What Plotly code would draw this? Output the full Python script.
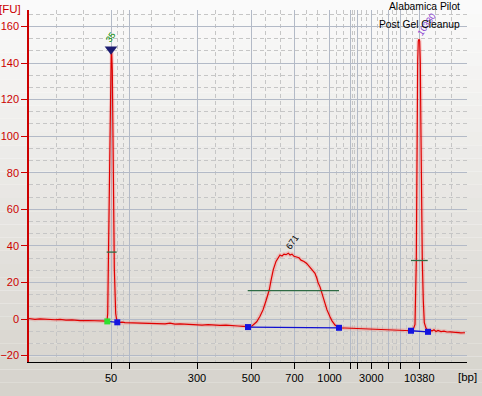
import plotly.graph_objects as go

# ---------------- data (x = migration position, y = fluorescence [FU]) ----------------
tick_pos = [111, 129, 197, 251, 294.5, 329.5, 350, 357, 371.3, 388.5, 400.3, 419.3]
tick_text = ["50", "", "300", "500", "700", "1000", "", "", "3000", "", "", "10380"]

trace_x = [29, 35, 40, 48, 55, 60, 66, 72, 80, 88, 95, 100, 104, 106, 107,
           107.7, 108.3, 109.3, 110.2, 110.7, 111.2, 111.7, 112.3, 112.8, 113.3, 114.3, 115.7,
           117, 119, 122, 125, 130, 135, 140, 147, 152, 158, 165, 170, 175, 180, 186, 192,
           197, 202, 208, 214, 220, 226, 232, 238, 243, 248, 252,
           256.7, 260, 263, 266, 269.3, 271, 273.3, 276, 278.3, 280, 282, 284, 286, 288.3,
           290, 292, 294, 296.7, 299, 301, 304, 306.7, 309, 311, 313, 315, 317, 318, 320,
           322, 323.5, 325, 327, 330, 332, 335, 337, 339, 345, 350, 356, 362, 368, 374,
           380, 386, 392, 398, 404, 408, 411, 413, 415, 416.3, 417, 417.7, 418.3, 419,
           419.7, 420.3, 421, 421.6, 422.3, 423.3, 424.3, 426, 428, 430, 432, 434, 436,
           438, 441, 444, 447, 450, 454, 458, 461, 465]
trace_y = [0.3, -0.2, 0.1, -0.3, -0.4, -0.2, -0.6, -0.5, -0.9, -0.8, -1.0, -1.1, -1.2, -1.3, -1.2,
           3, 28, 74, 120, 136, 146, 146, 136, 110, 74, 28, 3,
           -1.6, -1.9, -1.7, -2.0, -2.1, -1.8, -2.2, -2.1, -2.4, -2.3, -2.6, -2.3, -2.8, -2.7, -2.9, -3.0,
           -2.9, -3.3, -3.1, -3.4, -3.5, -3.3, -3.7, -3.8, -4.0, -4.2, -3.8,
           -1.5, 1.5, 5, 10, 16, 21, 27, 31.5, 34, 35, 34.5, 35.5, 35.2, 36,
           35, 35.5, 34.3, 34, 33.5, 32.2, 31.5, 30.4, 29, 28, 26.5, 25, 22, 20, 17.6,
           14, 11, 8.6, 5, 1.3, -1, -3.3, -4.3, -4.8, -4.9, -5.0, -5.3, -5.2, -5.6, -5.5,
           -5.9, -6.0, -6.0, -6.1, -6.3, -6.3, -6.4, -6.0, -3, 32, 100, 141, 152, 153,
           152, 141, 100, 60, 32, 10, -2, -5, -6.5, -5.8, -6.6, -5.9, -6.8,
           -6.2, -6.9, -6.6, -7.1, -7.0, -7.3, -7.2, -7.6, -7.5]

# peak start/end markers and baselines
start_x = [107.3, 248, 411]
start_y = [-1.3, -4.4, -6.4]
end_x = [117.3, 339, 428]
end_y = [-1.8, -4.8, -7.0]
# width lines (dark green)
wline_x0 = [106.7, 247.7, 411]
wline_x1 = [116.7, 339, 427.7]
wline_y = [36.6, 15.5, 32]
# peak labels
peak_lbl = ["35", "671", "10380"]
peak_lbl_x = [111, 292.5, 426]
peak_lbl_y = [154, 42, 161]
peak_lbl_col = ["#008a00", "#000000", "#8a3fd0"]
lm_x, lm_y = 111, 147.5

X0, X1 = 29, 467
Y0, Y1 = -23.5, 169

fig = go.Figure()

# background gradient (style)
n = 30
top = (250, 250, 250)
bot = (214, 211, 204)
for i in range(n):
    f = i / (n - 1)
    c = tuple(int(round(top[k] + (bot[k] - top[k]) * f)) for k in range(3))
    py0 = 396 * i / n
    py1 = 396 * (i + 1) / n
    fig.add_shape(type="rect", xref="paper", yref="paper", layer="below",
                  x0=-29 / 438, x1=453 / 438,
                  y0=(362 - py1) / 352, y1=(362 - py0) / 352,
                  fillcolor="rgb(%d,%d,%d)" % c, line=dict(width=0))

# glow + line
fig.add_trace(go.Scatter(x=trace_x, y=trace_y, mode="lines",
                         line=dict(color="rgba(255,60,60,0.18)", width=4), hoverinfo="skip"))
fig.add_trace(go.Scatter(x=trace_x, y=trace_y, mode="lines",
                         line=dict(color="#e00000", width=1.2)))

# baselines
for i in range(3):
    fig.add_trace(go.Scatter(x=[start_x[i], end_x[i]], y=[start_y[i], end_y[i]], mode="lines",
                             line=dict(color="#1010d0", width=1.3)))
    fig.add_trace(go.Scatter(x=[wline_x0[i], wline_x1[i]], y=[wline_y[i], wline_y[i]], mode="lines",
                             line=dict(color="#2e6b44", width=1.3)))

fig.add_trace(go.Scatter(x=[start_x[0]], y=[start_y[0]], mode="markers",
                         marker=dict(symbol="square", size=6, color="#30e030")))
fig.add_trace(go.Scatter(x=start_x[1:] + end_x, y=start_y[1:] + end_y, mode="markers",
                         marker=dict(symbol="square", size=6, color="#1414e0")))
fig.add_trace(go.Scatter(x=[lm_x], y=[lm_y], mode="markers",
                         marker=dict(symbol="triangle-down", size=11, color="#1c1c70")))

for t, x, y, c in zip(peak_lbl, peak_lbl_x, peak_lbl_y, peak_lbl_col):
    fig.add_annotation(x=x, y=y, text=t, showarrow=False, textangle=-55,
                       font=dict(size=9, color=c, family="Liberation Sans"))

fig.add_annotation(xref="paper", yref="paper", x=(462 - 29) / 438, y=(362 - 7) / 352,
                   xanchor="right", yanchor="middle", text="Alabamica Pilot", showarrow=False,
                   font=dict(size=10.3, color="#000000", family="Liberation Sans"))
fig.add_annotation(xref="paper", yref="paper", x=(462 - 29) / 438, y=(362 - 24) / 352,
                   xanchor="right", yanchor="middle", text="Post Gel Cleanup", showarrow=False,
                   font=dict(size=10.3, color="#000000", family="Liberation Sans"))
fig.add_annotation(xref="paper", yref="paper", x=(10 - 29) / 438, y=(362 - 9) / 352,
                   xanchor="center", yanchor="middle", text="[FU]", showarrow=False,
                   font=dict(size=11.5, color="#cc0000", family="Liberation Sans"))
fig.add_annotation(xref="paper", yref="paper", x=(467 - 29) / 438, y=(362 - 377) / 352,
                   xanchor="center", yanchor="middle", text="[bp]", showarrow=False,
                   font=dict(size=11.5, color="#000000", family="Liberation Sans"))

# minor vertical grid at thirds between majors
major_all = [X0] + tick_pos + [467 + 0.0]
minor_x = []
for a, b in zip(major_all[:-1], major_all[1:]):
    minor_x += [a + (b - a) / 3, a + 2 * (b - a) / 3]

fig.update_layout(
    width=482, height=396,
    margin=dict(l=29, r=15, t=10, b=34, autoexpand=False),
    showlegend=False,
    paper_bgcolor="rgba(0,0,0,0)",
    plot_bgcolor="rgba(0,0,0,0)",
    font=dict(family="Liberation Sans", size=11, color="#000000"),
    xaxis=dict(range=[X0, X1], tickmode="array", tickvals=tick_pos, ticktext=tick_text,
               automargin=False,
               showline=True, linecolor="#000000", linewidth=1, ticks="outside", ticklen=6,
               tickcolor="#000000", showgrid=True, gridcolor="#b3bac7", gridwidth=1,
               zeroline=False, tickfont=dict(size=11, color="#000000"),
               minor=dict(tickmode="array", tickvals=minor_x, showgrid=True, ticks="",
                          gridcolor="#c6c6c6", griddash="4px,3px", gridwidth=1)),
    yaxis=dict(range=[Y0, Y1], tickmode="array", tickvals=list(range(-20, 161, 20)),
               automargin=False,
               showline=True, linecolor="#cc0000", linewidth=1.5, ticks="outside", ticklen=6,
               tickcolor="#cc0000", showgrid=True, gridcolor="#b3bac7", gridwidth=1,
               zeroline=False, tickfont=dict(size=11, color="#cc0000"),
               minor=dict(tick0=0, dtick=20 / 3, showgrid=True, ticks="",
                          gridcolor="#c6c6c6", griddash="4px,3px", gridwidth=1)),
)

fig.write_html("out.html")
